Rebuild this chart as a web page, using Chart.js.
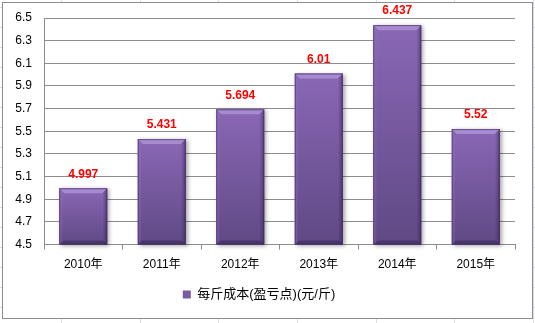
<!DOCTYPE html>
<html>
<head>
<meta charset="utf-8">
<script src="https://cdn.jsdelivr.net/npm/chart.js@4"></script>
<style>
  html, body {
    margin: 0;
    padding: 0;
    width: 535px;
    height: 323px;
    overflow: hidden;
    background-color: #fff;
    /* spreadsheet cells behind the chart */
    background-image:
      repeating-linear-gradient(to right, transparent 0 61px, #dadde3 61px 62px, transparent 62px 78.7px),
      repeating-linear-gradient(to bottom, transparent 0 7px, #dadde3 7px 8px, transparent 8px 20px);
  }
  #frame {
    position: absolute;
    left: 3px;
    top: 3px;
    width: 529px;
    height: 315px;
    background: #fff;
    box-shadow: -1px -1px 0 #8c8c8c, 1px 1px 0 #8c8c8c, 1px -1px 0 #8c8c8c, -1px 1px 0 #8c8c8c;
  }
</style>
</head>
<body>
<div id="frame"><canvas id="grafica" width="529" height="315"></canvas></div>
<script>
// ── datos ──────────────────────────────────────────────
const categorias = ['2010年', '2011年', '2012年', '2013年', '2014年', '2015年'];
const costoPorJin = [4.997, 5.431, 5.694, 6.01, 6.437, 5.52];
const etiquetaSerie = '每斤成本(盈亏点)(元/斤)';
const ejeMin = 4.5;
const ejeMax = 6.5;
const ejePaso = 0.2;

const fuente = '"Liberation Sans", Arial, "Noto Sans CJK SC", sans-serif';
const gris = '#8c8c8c';

// ── barras con relieve (degradado + bisel superior) ────
const relieveBarras = {
  id: 'relieveBarras',
  afterDatasetsDraw(chart) {
    const ctx = chart.ctx;
    const area = chart.chartArea;
    const meta = chart.getDatasetMeta(0);
    meta.data.forEach(function(barra) {
      const p = barra.getProps(['x', 'y', 'base', 'width'], true);
      const izq = p.x - p.width / 2;
      const der = p.x + p.width / 2;
      const base = Math.min(p.base, area.bottom);
      const alto = base - p.y;

      ctx.save();
      // cuerpo con sombra
      const grad = ctx.createLinearGradient(0, p.y, 0, base);
      grad.addColorStop(0, '#8a67b6');
      grad.addColorStop(1, '#5f4984');
      ctx.shadowColor = 'rgba(0,0,0,0.35)';
      ctx.shadowBlur = 4;
      ctx.shadowOffsetX = 2;
      ctx.shadowOffsetY = 1;
      ctx.fillStyle = grad;
      ctx.fillRect(izq, p.y, p.width, alto);
      ctx.restore();

      ctx.save();
      // bordes laterales
      const lat = ctx.createLinearGradient(izq, 0, der, 0);
      lat.addColorStop(0, 'rgba(150,120,200,0.55)');
      lat.addColorStop(0.08, 'rgba(150,120,200,0)');
      lat.addColorStop(0.9, 'rgba(40,25,70,0)');
      lat.addColorStop(1, 'rgba(40,25,70,0.45)');
      ctx.fillStyle = lat;
      ctx.fillRect(izq, p.y, p.width, alto);

      // bisel superior
      ctx.beginPath();
      ctx.moveTo(izq, p.y);
      ctx.lineTo(der, p.y);
      ctx.lineTo(der - 5, p.y + 5);
      ctx.lineTo(izq + 5, p.y + 5);
      ctx.closePath();
      ctx.fillStyle = '#a68bd0';
      ctx.fill();

      // bisel inferior
      ctx.beginPath();
      ctx.moveTo(izq, base);
      ctx.lineTo(der, base);
      ctx.lineTo(der - 4, base - 4);
      ctx.lineTo(izq + 4, base - 4);
      ctx.closePath();
      ctx.fillStyle = 'rgba(45,30,75,0.45)';
      ctx.fill();

      ctx.strokeStyle = 'rgba(60,40,95,0.6)';
      ctx.lineWidth = 1;
      ctx.strokeRect(izq + 0.5, p.y + 0.5, p.width - 1, alto - 1);
      ctx.restore();
    });
  }
};

// ── valores encima de cada barra ───────────────────────
const etiquetasValor = {
  id: 'etiquetasValor',
  afterDatasetsDraw(chart) {
    const ctx = chart.ctx;
    const meta = chart.getDatasetMeta(0);
    ctx.save();
    ctx.font = 'bold 12px ' + fuente;
    ctx.fillStyle = '#ff0000';
    ctx.textAlign = 'center';
    ctx.textBaseline = 'middle';
    meta.data.forEach(function(barra, i) {
      ctx.fillText(String(costoPorJin[i]), barra.x, barra.y - 14);
    });
    ctx.restore();
  }
};

new Chart(document.getElementById('grafica'), {
  type: 'bar',
  data: {
    labels: categorias,
    datasets: [{
      label: etiquetaSerie,
      data: costoPorJin,
      backgroundColor: '#7a5ca6',
      borderColor: '#5a4480',
      borderWidth: 0,
      categoryPercentage: 1,
      barPercentage: 0.61
    }]
  },
  options: {
    responsive: false,
    animation: false,
    layout: {
      padding: { left: 0, right: 17, top: 15, bottom: 7 }
    },
    plugins: {
      tooltip: { enabled: false },
      legend: {
        position: 'bottom',
        labels: {
          boxWidth: 8,
          boxHeight: 8,
          padding: 8,
          color: '#000',
          font: { family: fuente, size: 13 }
        }
      }
    },
    scales: {
      x: {
        grid: {
          drawOnChartArea: false,
          drawTicks: true,
          tickLength: 5,
          color: gris
        },
        border: { color: gris, width: 1 },
        ticks: {
          color: '#000',
          padding: 8,
          font: { family: fuente, size: 12 }
        }
      },
      y: {
        min: ejeMin,
        max: ejeMax,
        afterFit(escala) {
          escala.width = 41;
          escala.paddingTop = 0;
        },
        grid: { color: gris, drawTicks: false },
        border: { color: gris, width: 1 },
        ticks: {
          stepSize: ejePaso,
          padding: 12,
          color: '#000',
          font: { family: fuente, size: 12 },
          callback: function(v) { return Number(v).toFixed(1); }
        }
      }
    }
  },
  plugins: [relieveBarras, etiquetasValor]
});
</script>
</body>
</html>
